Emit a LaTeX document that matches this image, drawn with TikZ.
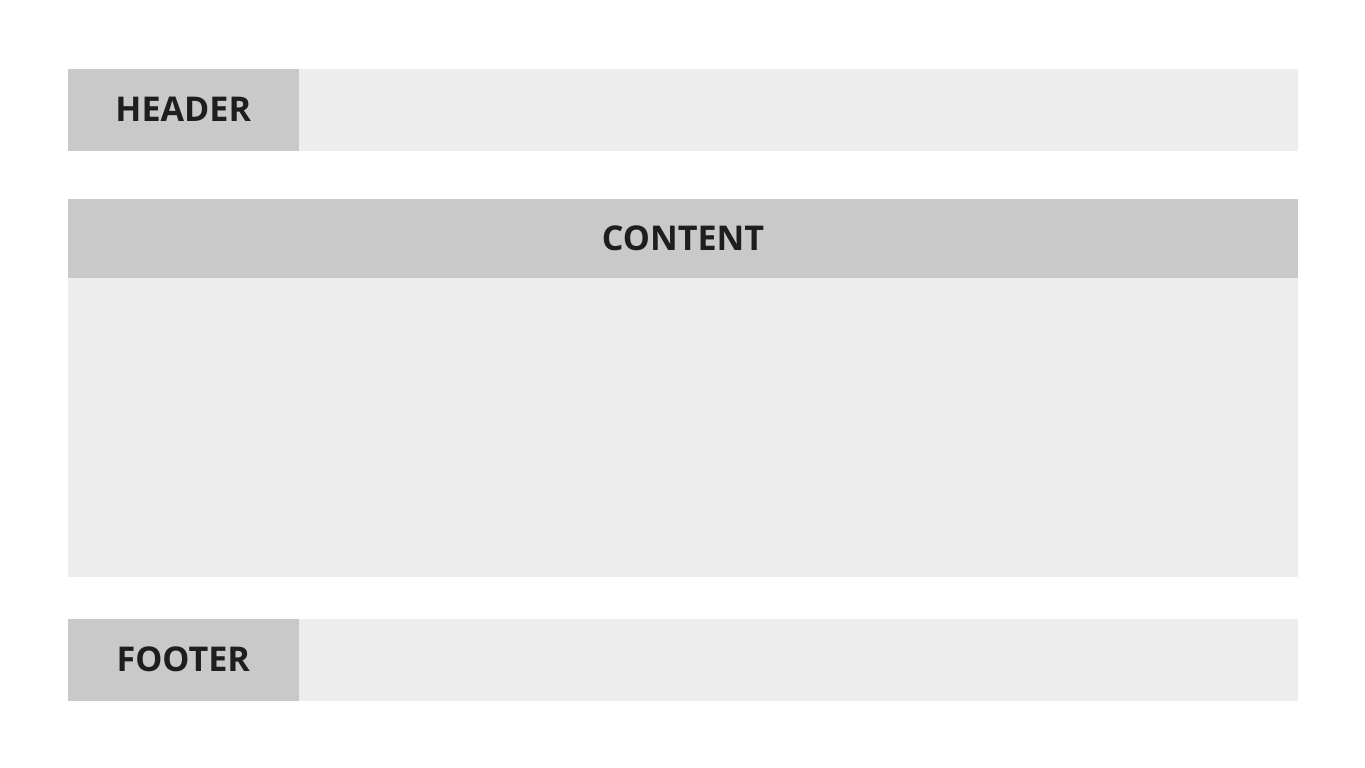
\documentclass[tikz,border=0pt]{standalone}
\usepackage{fontspec}
\setmainfont{Open Sans}
\usetikzlibrary{positioning}

\definecolor{bandlight}{HTML}{EDEDED}
\definecolor{banddark}{HTML}{C9C9C9}
\definecolor{labeltext}{HTML}{1E1E1E}

\begin{document}
\begin{tikzpicture}[%
        x=0.01cm, y=-0.01cm,
        font=\fontsize{9.7}{11}\selectfont\bfseries,
        band/.style={fill=bandlight, draw=none, inner sep=0pt, anchor=north west},
        tag/.style={fill=banddark, draw=none, inner sep=0pt, anchor=north west,
            text=labeltext, minimum width=2.31cm, minimum height=0.82cm}
        ]
    \useasboundingbox (0,0) rectangle (1365,768);

    % Kopfzeile
    \node (headband) [band, minimum width=12.30cm, minimum height=0.82cm] at (67,68) {};
    \node (header) [tag] at (67,68) {HEADER};

    % Inhalt
    \node (contentbody) [band, minimum width=12.30cm, minimum height=3.78cm] at (67,198) {};
    \node (content) [tag, minimum width=12.30cm, minimum height=0.79cm] at (67,198) {CONTENT};

    % Fusszeile
    \node (footband) [band, minimum width=12.30cm, minimum height=0.82cm] at (67,618) {};
    \node (footer) [tag] at (67,618) {FOOTER};
\end{tikzpicture}
\end{document}
